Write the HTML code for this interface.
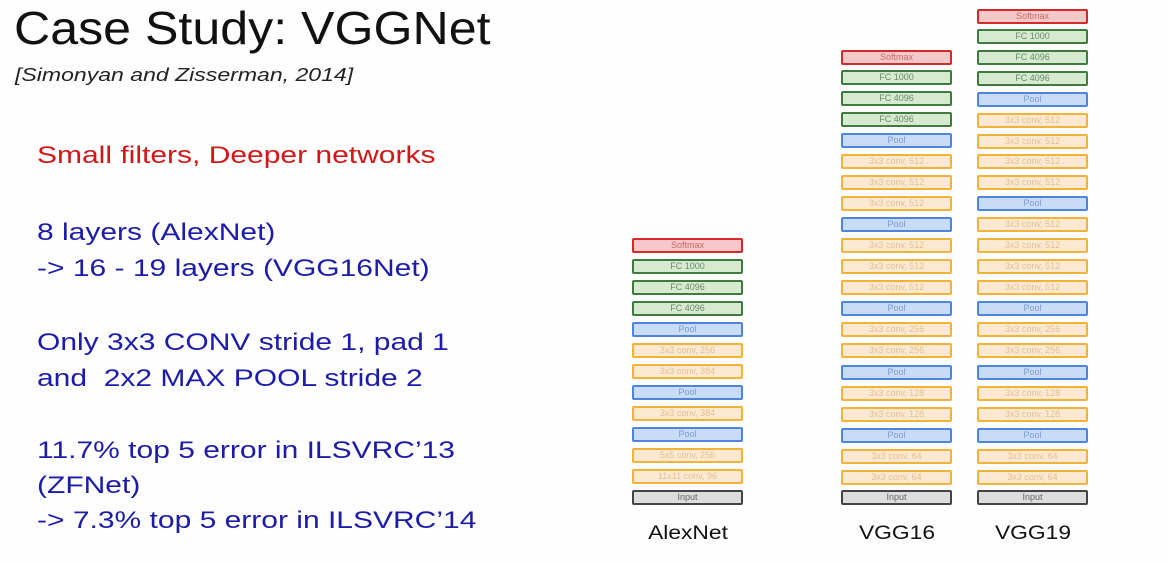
<!DOCTYPE html>
<html><head><meta charset="utf-8"><style>
body{margin:0;background:#fff;}
#p{position:relative;width:1168px;height:562px;overflow:hidden;background:#fefefe;font-family:"Liberation Sans",sans-serif;}
.t{position:absolute;white-space:nowrap;line-height:1;transform-origin:0 0;}
.b{position:absolute;box-sizing:border-box;width:111px;height:15px;border:2px solid;border-radius:2px;font-size:9px;line-height:11px;text-align:center;color:#999;}
.s{background:#f5c9c9;border-color:#d42a2a;color:#c66;}
.f{background:#d6eacf;border-color:#3f7a3f;color:#6a8a6a;}
.p{background:#c9dcf7;border-color:#4f84dc;color:#7a9ad0;}
.c{background:#fde9d2;border-color:#f2b338;color:#e0c090;}
.i{background:#ddd;border-color:#444;color:#666;}
.l{position:absolute;font-size:19px;width:120px;text-align:center;line-height:1;color:#111;transform:scaleX(1.2);}
</style></head><body><div id="p">
<div class="t" style="left:14px;top:5px;font-size:46px;color:#111;transform:scaleX(1.09)">Case Study: VGGNet</div>
<div class="t" style="left:15px;top:66px;font-size:18px;font-style:italic;color:#222;transform:scaleX(1.28)">[Simonyan and Zisserman, 2014]</div>
<div class="t" style="left:37px;top:144px;font-size:24px;color:#d01818;transform:scaleX(1.25)">Small filters, Deeper networks</div>
<div class="t" style="left:37px;top:215px;font-size:24px;color:#1c1ca8;line-height:36px;transform:scaleX(1.25)">8 layers (AlexNet)<br>-&gt; 16 - 19 layers (VGG16Net)</div>
<div class="t" style="left:37px;top:325px;font-size:24px;color:#1c1ca8;line-height:36px;transform:scaleX(1.25)">Only 3x3 CONV stride 1, pad 1<br>and&nbsp; 2x2 MAX POOL stride 2</div>
<div class="t" style="left:37px;top:433px;font-size:24px;color:#1c1ca8;line-height:35px;transform:scaleX(1.25)">11.7% top 5 error in ILSVRC’13<br>(ZFNet)<br>-&gt; 7.3% top 5 error in ILSVRC’14</div>

<!-- AlexNet -->
<div class="b s" style="left:632px;top:238px">Softmax</div>
<div class="b f" style="left:632px;top:259px">FC 1000</div>
<div class="b f" style="left:632px;top:280px">FC 4096</div>
<div class="b f" style="left:632px;top:301px">FC 4096</div>
<div class="b p" style="left:632px;top:322px">Pool</div>
<div class="b c" style="left:632px;top:343px">3x3 conv, 256</div>
<div class="b c" style="left:632px;top:364px">3x3 conv, 384</div>
<div class="b p" style="left:632px;top:385px">Pool</div>
<div class="b c" style="left:632px;top:406px">3x3 conv, 384</div>
<div class="b p" style="left:632px;top:427px">Pool</div>
<div class="b c" style="left:632px;top:448px">5x5 conv, 256</div>
<div class="b c" style="left:632px;top:469px">11x11 conv, 96</div>
<div class="b i" style="left:632px;top:490px">Input</div>

<!-- VGG16 -->
<div class="b s" style="left:841px;top:50px">Softmax</div>
<div class="b f" style="left:841px;top:70px">FC 1000</div>
<div class="b f" style="left:841px;top:91px">FC 4096</div>
<div class="b f" style="left:841px;top:112px">FC 4096</div>
<div class="b p" style="left:841px;top:133px">Pool</div>
<div class="b c" style="left:841px;top:154px">3x3 conv, 512</div>
<div class="b c" style="left:841px;top:175px">3x3 conv, 512</div>
<div class="b c" style="left:841px;top:196px">3x3 conv, 512</div>
<div class="b p" style="left:841px;top:217px">Pool</div>
<div class="b c" style="left:841px;top:238px">3x3 conv, 512</div>
<div class="b c" style="left:841px;top:259px">3x3 conv, 512</div>
<div class="b c" style="left:841px;top:280px">3x3 conv, 512</div>
<div class="b p" style="left:841px;top:301px">Pool</div>
<div class="b c" style="left:841px;top:322px">3x3 conv, 256</div>
<div class="b c" style="left:841px;top:343px">3x3 conv, 256</div>
<div class="b p" style="left:841px;top:365px">Pool</div>
<div class="b c" style="left:841px;top:386px">3x3 conv, 128</div>
<div class="b c" style="left:841px;top:407px">3x3 conv, 128</div>
<div class="b p" style="left:841px;top:428px">Pool</div>
<div class="b c" style="left:841px;top:449px">3x3 conv, 64</div>
<div class="b c" style="left:841px;top:470px">3x3 conv, 64</div>
<div class="b i" style="left:841px;top:490px">Input</div>

<!-- VGG19 -->
<div class="b s" style="left:977px;top:9px">Softmax</div>
<div class="b f" style="left:977px;top:29px">FC 1000</div>
<div class="b f" style="left:977px;top:50px">FC 4096</div>
<div class="b f" style="left:977px;top:71px">FC 4096</div>
<div class="b p" style="left:977px;top:92px">Pool</div>
<div class="b c" style="left:977px;top:113px">3x3 conv, 512</div>
<div class="b c" style="left:977px;top:134px">3x3 conv, 512</div>
<div class="b c" style="left:977px;top:154px">3x3 conv, 512</div>
<div class="b c" style="left:977px;top:175px">3x3 conv, 512</div>
<div class="b p" style="left:977px;top:196px">Pool</div>
<div class="b c" style="left:977px;top:217px">3x3 conv, 512</div>
<div class="b c" style="left:977px;top:238px">3x3 conv, 512</div>
<div class="b c" style="left:977px;top:259px">3x3 conv, 512</div>
<div class="b c" style="left:977px;top:280px">3x3 conv, 512</div>
<div class="b p" style="left:977px;top:301px">Pool</div>
<div class="b c" style="left:977px;top:322px">3x3 conv, 256</div>
<div class="b c" style="left:977px;top:343px">3x3 conv, 256</div>
<div class="b p" style="left:977px;top:365px">Pool</div>
<div class="b c" style="left:977px;top:386px">3x3 conv, 128</div>
<div class="b c" style="left:977px;top:407px">3x3 conv, 128</div>
<div class="b p" style="left:977px;top:428px">Pool</div>
<div class="b c" style="left:977px;top:449px">3x3 conv, 64</div>
<div class="b c" style="left:977px;top:470px">3x3 conv, 64</div>
<div class="b i" style="left:977px;top:490px">Input</div>

<div class="l" style="left:628px;top:524px">AlexNet</div>
<div class="l" style="left:837px;top:524px">VGG16</div>
<div class="l" style="left:973px;top:524px">VGG19</div>
</div></body></html>
